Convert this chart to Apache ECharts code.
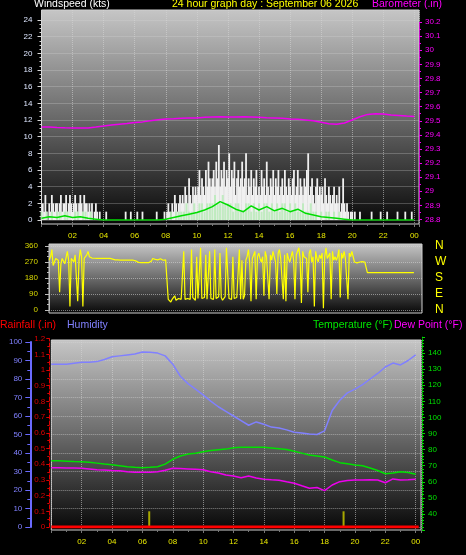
<!DOCTYPE html>
<html><head><meta charset="utf-8">
<script src="https://cdn.jsdelivr.net/npm/echarts/dist/echarts.min.js"></script>
<style>html,body{margin:0;padding:0;background:#000;}#c{width:466px;height:555px;}</style>
</head><body><div id="c"></div>
<script>
// ---------- DATA ----------
const hourTicks = ['00','02','04','06','08','10','12','14','16','18','20','22','00'];
const compass = ['N','E','S','W','N'];

// wind gust (kts), every 5 minutes from 00:00
const gust5min = [
 0,2,1,3,1,0,2,1,3,2,1,2,
 2,1,2,3,1,2,2,3,1,2,3,2,
 1,2,3,2,1,2,3,2,1,3,2,2,
 1,2,1,2,0,1,2,1,0,1,0,0,
 0,0,1,0,0,0,0,0,0,0,0,0,
 0,0,0,0,0,1,0,0,0,1,0,0,
 0,0,1,0,0,0,1,0,0,0,0,0,
 0,0,0,0,0,1,0,0,0,0,0,1,
 0,1,2,1,0,2,1,3,2,1,2,3,
 2,3,2,4,3,2,5,3,2,4,3,4,
 3,4,6,3,5,4,3,6,4,7,5,4,
 5,6,4,7,5,9,4,6,5,7,4,6,
 5,8,4,6,5,7,3,5,6,4,5,7,
 4,5,8,3,5,4,6,3,5,4,6,3,
 4,3,6,4,5,3,7,4,3,5,4,6,
 3,5,4,6,3,4,5,3,6,4,3,5,
 4,3,5,6,3,4,6,3,5,4,3,5,
 4,6,8,3,4,5,3,2,4,5,3,4,
 3,4,2,5,3,2,4,3,2,3,4,2,
 3,2,4,1,2,5,2,1,2,1,0,1,
 1,0,1,0,0,0,1,0,0,0,0,0,
 0,0,0,1,0,0,0,0,0,0,1,0,
 0,0,0,1,0,0,0,0,0,0,0,1,
 0,0,0,0,0,1,0,0,0,0,1,0
];
// wind speed (kts), every 10 minutes
const speed10min = [
 1,0,1,0,1,0, 1,1,0,1,1,0, 0,1,1,0,1,1, 0,1,0,0,0,0,
 0,0,0,0,0,0, 0,0,0,0,0,0, 0,0,0,0,0,0, 0,0,0,0,0,0,
 0,0,1,0,1,1, 1,1,2,1,1,2, 1,2,2,1,2,2, 2,3,2,2,3,2,
 2,2,1,2,2,1, 1,2,2,1,2,1, 2,1,2,2,1,2, 1,2,1,2,2,1,
 2,1,2,1,1,2, 1,1,2,1,1,0, 1,0,1,1,0,1, 0,1,0,0,0,0,
 0,0,0,0,0,0, 0,0,0,0,0,0, 0,0,0,0,0,0, 0,0,0,0,0,0
];
// average wind (kts), every 30 minutes
const avgWind30min = [
 0.2,0.4,0.3,0.5,0.3,0.4,0.2,0.1,
 0,0,0,0,0,0,0,0,
 0.1,0.3,0.5,0.7,0.9,1.2,1.6,2.2,
 1.8,1.3,1.0,1.7,1.2,1.6,1.1,1.4,
 1.0,1.3,0.8,0.6,0.4,0.3,0.2,0.1,
 0,0,0,0,0,0,0,0,0
];
// barometer (in), every 30 minutes
const baro30min = [
 29.456,29.455,29.452,29.450,29.449,29.448,29.449,29.455,
 29.462,29.470,29.475,29.480,29.487,29.492,29.500,29.507,
 29.513,29.515,29.518,29.520,29.520,29.524,29.527,29.528,
 29.527,29.527,29.528,29.527,29.525,29.522,29.520,29.518,
 29.513,29.510,29.506,29.500,29.490,29.478,29.476,29.484,
 29.505,29.528,29.545,29.550,29.548,29.541,29.537,29.533,29.530
];
// wind direction (deg), every 5 minutes
const dir5min = [
 null,null,null,null,null,null,280,300,340,250,270,290,
 300,280,100,260,290,300,260,270,330,280,20,290,
 290,270,310,300,50,280,340,300,20,290,300,310,
 330,300,290,292,291,291,291,290,290,290,290,290,
 290,291,291,290,290,290,288,286,283,282,282,282,
 281,281,281,281,280,281,281,280,280,280,280,280,
 279,276,272,268,266,266,266,266,266,266,267,267,
 268,275,290,288,285,283,282,284,288,285,280,280,
 282,280,60,70,45,60,70,80,55,60,65,55,
 60,70,330,60,50,65,70,60,340,70,60,55,
 300,65,60,350,65,60,70,310,60,55,330,65,
 70,60,340,65,60,75,320,70,55,60,75,350,
 350,65,70,60,300,65,60,70,70,340,60,280,
 60,80,280,300,340,270,50,290,300,330,60,300,
 320,290,270,300,80,330,300,290,60,310,280,330,
 300,270,90,320,340,290,280,60,310,50,320,290,
 270,300,330,280,60,310,300,350,290,40,330,300,
 310,290,100,320,340,270,300,20,330,290,270,310,
 290,320,10,300,350,290,300,320,60,330,280,300,
 280,300,340,70,320,290,330,290,300,60,320,300,
 330,300,270,268,265,267,270,271,272,272,270,270,
 210,210,210,210,210,210,210,210,210,210,210,210,
 210,210,210,210,210,210,210,210,210,210,210,210,
 210,210,210,210,210,210,210,210,210,210,210,210,
 210
];
// humidity (%), every 30 minutes
const hum30min = [
 88,88,88,88.5,89,89,89.4,90.5,
 92,92.5,93,93.5,94.6,94.5,94,92.5,
 88,81.5,77.5,74.5,71.4,68,65,62.5,
 60,57.5,55,56.8,55.5,54,53.5,52.5,
 51.2,50.8,50.3,50,52,63,68.5,72.5,
 74.5,77,80,83,86.5,88.6,87.6,90,93
];
// temperature (F), every 30 minutes
const temp30min = [
 73.1,73,72.8,72.6,72.5,72.2,71.6,71,
 70.6,70,69.4,69,68.8,69,69.4,71,
 74,76,77.2,77.8,78.7,79.4,79.9,80.3,
 81.2,81.4,81.5,81.4,81.4,81,80.6,80,
 79,77.8,76.6,76,75.4,73.5,71.9,71.2,
 70.5,70,68.6,67,65,65.5,66.2,65.8,64.7
];
// dew point (F), every 30 minutes
const dew30min = [
 68.8,68.7,68.6,68.5,68.4,68,67.5,67.3,
 67,66.8,66.2,65.9,65.9,66,66.3,67.2,
 68.4,68.2,68,67.8,67.5,66.3,65.5,64.2,
 63.6,62.5,63.6,62.3,61.6,61.2,61,60,
 59.1,57.5,56,56.5,54.5,58,60.1,60.8,
 61.1,61.1,61.2,61.1,59.4,61.8,61.1,61.3,61.6
];
// rainfall (in)
const rainHours = [0, 24.2];
const rainValues = [0, 0];
// sunrise / sunset markers
const sunHours = [6.45, 19.25];
const sunMarks = [0.1, 0.1];

// ---------- BUILD ----------
const pairs = (arr, stepH) => arr.map((v, i) => [i * stepH, v]);
const FONT = 'Liberation Sans, Arial, sans-serif';
const grad = () => new echarts.graphic.LinearGradient(0, 0, 0, 1, [
  {offset: 0, color: '#c6c6c6'}, {offset: 0.5, color: '#6a6a6a'}, {offset: 1, color: '#070707'}]);
const dotted = {show: true, lineStyle: {type: 'dotted', color: 'rgba(215,215,215,0.55)', width: 1}};
const hourFmt = v => (v > 0 && v % 2 === 0) ? hourTicks[v / 2] : '';
const hid = (grid, min, max) => ({type: 'value', gridIndex: grid, min: min, max: max, show: false});

const chart = echarts.init(document.getElementById('c'), null, {renderer: 'canvas'});
const tStyle = (c) => ({color: c, fontSize: 10.5, fontWeight: 'normal', fontFamily: FONT});

chart.setOption({
  backgroundColor: '#000',
  animation: false,
  title: [
    {text: 'Windspeed (kts)', left: 34, top: -1, padding: 0, textStyle: tStyle('#ffffff')},
    {text: '24 hour graph day : September 06 2026', left: 172, top: -1, padding: 0, textStyle: tStyle('#ffff00')},
    {text: 'Barometer (.in)', left: 372, top: -1, padding: 0, textStyle: tStyle('#ff00ff')},
    {text: 'Rainfall (.in)', left: 0, top: 320, padding: 0, textStyle: tStyle('#ff0000')},
    {text: 'Humidity', left: 67, top: 320, padding: 0, textStyle: tStyle('#8080ff')},
    {text: 'Temperature (°F)', left: 313, top: 320, padding: 0, textStyle: tStyle('#00e800')},
    {text: 'Dew Point (°F)', left: 394, top: 320, padding: 0, textStyle: tStyle('#ff00ff')}
  ],
  grid: [
    {left: 41.5, top: 10, width: 377.5, height: 214, show: true, backgroundColor: grad(), borderColor: '#d0d0d0', borderWidth: 1},
    {left: 41.5, top: 20, width: 377.5, height: 200},
    {left: 41.5, top: 22, width: 377.5, height: 197.5},
    {left: 49, top: 244, width: 373, height: 69, show: true, backgroundColor: grad(), borderColor: '#d0d0d0', borderWidth: 1},
    {left: 49, top: 246, width: 373, height: 64},
    {left: 51.3, top: 340, width: 369.7, height: 190, show: true, backgroundColor: grad(), borderColor: '#d0d0d0', borderWidth: 1},
    {left: 51.3, top: 342, width: 369.7, height: 185},
    {left: 51.3, top: 338.6, width: 369.7, height: 188.4},
    {left: 51.3, top: 336.9, width: 369.7, height: 193.2}
  ],
  xAxis: [
    {type: 'value', gridIndex: 0, min: 0, max: 24.3, interval: 2,
     axisLine: {show: false, onZero: false}, axisTick: {show: true, length: 3, lineStyle: {color: '#777'}},
     minorTick: {show: true, splitNumber: 2, length: 2, lineStyle: {color: '#777'}},
     splitLine: dotted,
     axisLabel: {color: '#e8e800', fontSize: 8, fontFamily: FONT, margin: 8, formatter: hourFmt}},
    hid(1, 0, 24.3),
    hid(1, 0, 24.3),
    hid(2, 0, 24.3),
    hid(3, 0.483, 24.52),
    hid(4, 0.483, 24.52),
    {type: 'value', gridIndex: 5, min: 0, max: 24.35, interval: 2,
     axisLine: {show: false, onZero: false}, axisTick: {show: true, length: 3, lineStyle: {color: '#777'}},
     minorTick: {show: true, splitNumber: 2, length: 2, lineStyle: {color: '#777'}},
     splitLine: dotted,
     axisLabel: {color: '#e8e800', fontSize: 8, fontFamily: FONT, margin: 8, formatter: hourFmt}},
    hid(6, 0, 24.35),
    hid(7, 0, 24.35),
    hid(8, 0, 24.35)
  ],
  yAxis: [
    hid(0, 0, 1),
    {type: 'value', gridIndex: 1, position: 'left', min: 0, max: 24, interval: 2,
     axisLine: {show: true, onZero: false, lineStyle: {color: '#d8d8d8'}},
     axisTick: {show: true, length: 4, lineStyle: {color: '#d8d8d8'}},
     minorTick: {show: true, splitNumber: 4, length: 2, lineStyle: {color: '#d8d8d8'}},
     splitLine: dotted,
     axisLabel: {color: '#dde6ff', fontSize: 8, fontFamily: FONT, margin: 9}},
    {type: 'value', gridIndex: 2, position: 'right', min: 28.8, max: 30.2, interval: 0.1,
     axisLine: {show: true, onZero: false, lineStyle: {color: '#cc00cc', type: 'dotted'}},
     axisTick: {show: true, length: 3, lineStyle: {color: '#ee00ee'}},
     minorTick: {show: true, splitNumber: 2, length: 2, lineStyle: {color: '#ee00ee'}},
     splitLine: {show: false},
     axisLabel: {color: '#ff00ff', fontSize: 8, fontFamily: FONT, margin: 6,
                 formatter: v => String(Math.round(v * 10) / 10)}},
    hid(3, 0, 1),
    {type: 'value', gridIndex: 4, position: 'left', min: 0, max: 360, interval: 90,
     axisLine: {show: true, onZero: false, lineStyle: {color: '#bcbcbc'}},
     axisTick: {show: true, length: 4, lineStyle: {color: '#bcbcbc'}},
     minorTick: {show: true, splitNumber: 3, length: 2, lineStyle: {color: '#bcbcbc'}},
     splitLine: dotted,
     axisLabel: {color: '#d8d800', fontSize: 8, fontFamily: FONT, margin: 11}},
    {type: 'value', gridIndex: 4, position: 'right', min: 0, max: 360, interval: 90,
     axisLine: {show: false, onZero: false}, axisTick: {show: false}, splitLine: {show: false},
     axisLabel: {color: '#ffff00', fontSize: 12, fontFamily: FONT, margin: 13,
                 formatter: v => compass[v / 90]}},
    hid(5, 0, 1),
    {type: 'value', gridIndex: 6, position: 'left', offset: 21, min: 0, max: 100, interval: 10,
     axisLine: {show: true, onZero: false, lineStyle: {color: '#6a6aff', width: 2}},
     axisTick: {show: true, length: 5, lineStyle: {color: '#6a6aff'}},
     minorTick: {show: true, splitNumber: 2, length: 3, lineStyle: {color: '#6a6aff'}},
     splitLine: dotted,
     axisLabel: {color: '#8080ff', fontSize: 8, fontFamily: FONT, margin: 8}},
    {type: 'value', gridIndex: 7, position: 'left', offset: 2, min: 0, max: 1.2, interval: 0.1,
     axisLine: {show: true, onZero: false, lineStyle: {color: '#dd0000', type: 'dashed'}},
     axisTick: {show: true, length: 3, lineStyle: {color: '#dd0000'}},
     minorTick: {show: true, splitNumber: 2, length: 2, lineStyle: {color: '#dd0000'}},
     splitLine: {show: false},
     axisLabel: {color: '#dd0000', fontSize: 8, fontFamily: FONT, margin: 4,
                 formatter: v => String(Math.round(v * 10) / 10)}},
    {type: 'value', gridIndex: 8, position: 'right', offset: 1, min: 30, max: 150, interval: 10,
     axisLine: {show: true, onZero: false, lineStyle: {color: '#00bb00', type: 'dotted'}},
     axisTick: {show: true, length: 3, lineStyle: {color: '#00dd00'}},
     minorTick: {show: true, splitNumber: 5, length: 2, lineStyle: {color: '#00dd00'}},
     splitLine: {show: false},
     axisLabel: {color: '#00e000', fontSize: 8, fontFamily: FONT, margin: 6,
                 formatter: v => (v === 30 || v === 150) ? '' : String(v)}}
  ],
  series: [
    {type: 'bar', xAxisIndex: 1, yAxisIndex: 1, barWidth: 1.8, silent: true,
     itemStyle: {color: '#f0f0f0'}, data: pairs(gust5min, 1 / 12)},
    {type: 'bar', xAxisIndex: 2, yAxisIndex: 1, barWidth: 2, silent: true,
     itemStyle: {color: 'rgba(185,235,185,0.85)'}, data: pairs(speed10min, 1 / 6)},
    {type: 'line', xAxisIndex: 2, yAxisIndex: 1, symbol: 'none', silent: true,
     lineStyle: {color: '#00dd00', width: 1.5}, data: pairs(avgWind30min, 0.5),
     markLine: {silent: true, symbol: 'none', label: {show: false},
                lineStyle: {color: '#a8e0a8', width: 3, type: 'solid'}, data: [{yAxis: -0.3}]}},
    {type: 'line', xAxisIndex: 3, yAxisIndex: 2, symbol: 'none', silent: true,
     lineStyle: {color: '#ee00ee', width: 1.5}, data: pairs(baro30min, 0.5)},
    {type: 'line', xAxisIndex: 5, yAxisIndex: 4, symbol: 'none', silent: true,
     lineStyle: {color: '#ffff00', width: 1.2}, data: pairs(dir5min, 1 / 12)},
    {type: 'line', xAxisIndex: 7, yAxisIndex: 7, symbol: 'none', silent: true,
     lineStyle: {color: '#8080ff', width: 1.5}, data: pairs(hum30min, 0.5)},
    {type: 'line', xAxisIndex: 9, yAxisIndex: 9, symbol: 'none', silent: true,
     lineStyle: {color: '#00e000', width: 1.5}, data: pairs(temp30min, 0.5)},
    {type: 'line', xAxisIndex: 9, yAxisIndex: 9, symbol: 'none', silent: true,
     lineStyle: {color: '#ee00ee', width: 1.5}, data: pairs(dew30min, 0.5)},
    {type: 'line', xAxisIndex: 8, yAxisIndex: 8, symbol: 'none', silent: true,
     lineStyle: {color: '#ff0000', width: 3}, data: rainHours.map((h, i) => [h, rainValues[i]])},
    {type: 'bar', xAxisIndex: 8, yAxisIndex: 8, barWidth: 2, silent: true,
     itemStyle: {color: '#a8a800'}, data: sunHours.map((h, i) => [h, sunMarks[i]])}
  ]
});
</script>
</body></html>
